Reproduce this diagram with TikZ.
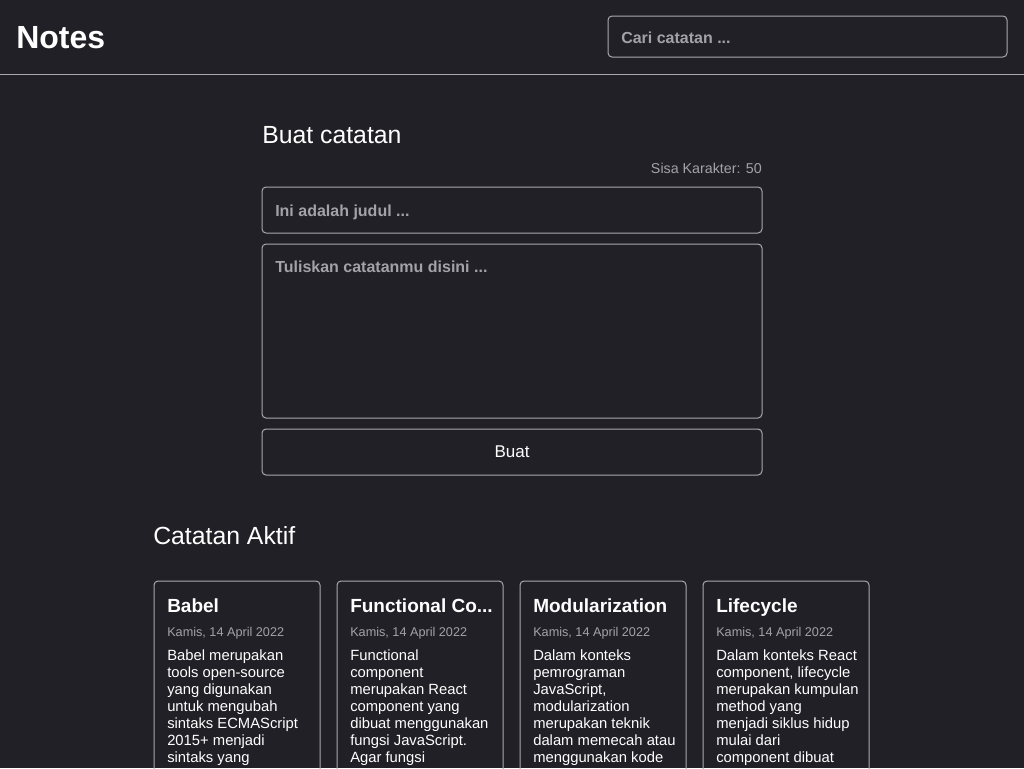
\documentclass[tikz,border=0pt]{standalone}
\usepackage{fontspec}
\setmainfont{Liberation Sans}
\usetikzlibrary{positioning}
\definecolor{pagebg}{HTML}{212026}
\definecolor{edgegray}{HTML}{A9A9AD}
\definecolor{hintgray}{HTML}{A3A3A7}
\tikzset{
  box/.style={draw=edgegray, line width=0.75pt, rounded corners=3pt, inner sep=0pt, outer sep=0pt},
  hint/.style={text=hintgray, inner sep=0pt, anchor=base west, font=\fontsize{12}{14}\selectfont\bfseries},
  heading/.style={text=white, inner sep=0pt, anchor=base west, font=\fontsize{18.6}{22}\selectfont},
  card/.style={box, minimum width=124.5pt, minimum height=165pt},
  cardtitle/.style={text=white, inner sep=0pt, anchor=base west, font=\fontsize{14.25}{17}\selectfont\bfseries},
  carddate/.style={text=hintgray, inner sep=0pt, anchor=base west, font=\fontsize{9.5}{11}\selectfont},
  cardbody/.style={text=white, inner sep=0pt, anchor=north west, align=left, font=\fontsize{11.1}{12.75}\selectfont}
}
\begin{document}
\begin{tikzpicture}[x=0.75pt, y=-0.75pt]
  \useasboundingbox (0,0) rectangle (1024,768);
  \clip (0,0) rectangle (1024,768);
  \fill[pagebg] (0,0) rectangle (1024,768);
  % header
  \node[text=white, inner sep=0pt, anchor=base west, font=\fontsize{24}{28}\selectfont\bfseries] (brand) at (16,48.5) {Notes};
  \node[box, anchor=north west, minimum width=299.25pt, minimum height=30.75pt] (search) at (608,16) {};
  \node[hint] (searchhint) at (621,43.5) {Cari catatan ...};
  \draw[edgegray, line width=0.75pt] (0,74) -- (1024,74);
  % form
  \node[heading] (formtitle) at (262,143.5) {Buat catatan};
  \node[text=hintgray, inner sep=0pt, anchor=base east, font=\fontsize{10.7}{12}\selectfont] (sisa) at (762,173) {Sisa Karakter: 50};
  \node[box, anchor=north west, minimum width=375pt, minimum height=34.5pt] (judul) at (262,187) {};
  \node[hint] (judulhint) at (275,216.5) {Ini adalah judul ...};
  \node[box, anchor=north west, minimum width=375pt, minimum height=130.5pt] (isi) at (262,244) {};
  \node[hint] (isihint) at (275,272.5) {Tuliskan catatanmu disini ...};
  \node[box, anchor=north west, minimum width=375pt, minimum height=34.5pt] (buat) at (262,429) {};
  \node[text=white, inner sep=0pt, font=\fontsize{12.75}{15}\selectfont] (buatlabel) at (buat.center) {Buat};
  % notes list
  \node[heading] (aktif) at (153,544.5) {Catatan Aktif};
  \node[card, anchor=north west] (c1) at (154,581) {};
  \node[card, right=12.75pt of c1] (c2) {};
  \node[card, right=12.75pt of c2] (c3) {};
  \node[card, right=12.75pt of c3] (c4) {};
  \node[cardtitle] (t1) at ([shift={(13,31)}]c1.north west) {Babel};
  \node[carddate] (d1) at ([shift={(13,55)}]c1.north west) {Kamis, 14 April 2022};
  \node[cardbody] (b1) at ([shift={(13,68)}]c1.north west) {Babel merupakan\\tools open-source\\yang digunakan\\untuk mengubah\\sintaks ECMAScript\\2015+ menjadi\\sintaks yang};
  \node[cardtitle] (t2) at ([shift={(13,31)}]c2.north west) {Functional Co...};
  \node[carddate] (d2) at ([shift={(13,55)}]c2.north west) {Kamis, 14 April 2022};
  \node[cardbody] (b2) at ([shift={(13,68)}]c2.north west) {Functional\\component\\merupakan React\\component yang\\dibuat menggunakan\\fungsi JavaScript.\\Agar fungsi};
  \node[cardtitle] (t3) at ([shift={(13,31)}]c3.north west) {Modularization};
  \node[carddate] (d3) at ([shift={(13,55)}]c3.north west) {Kamis, 14 April 2022};
  \node[cardbody] (b3) at ([shift={(13,68)}]c3.north west) {Dalam konteks\\pemrograman\\JavaScript,\\modularization\\merupakan teknik\\dalam memecah atau\\menggunakan kode};
  \node[cardtitle] (t4) at ([shift={(13,31)}]c4.north west) {Lifecycle};
  \node[carddate] (d4) at ([shift={(13,55)}]c4.north west) {Kamis, 14 April 2022};
  \node[cardbody] (b4) at ([shift={(13,68)}]c4.north west) {Dalam konteks React\\component, lifecycle\\merupakan kumpulan\\method yang\\menjadi siklus hidup\\mulai dari\\component dibuat};
\end{tikzpicture}
\end{document}
